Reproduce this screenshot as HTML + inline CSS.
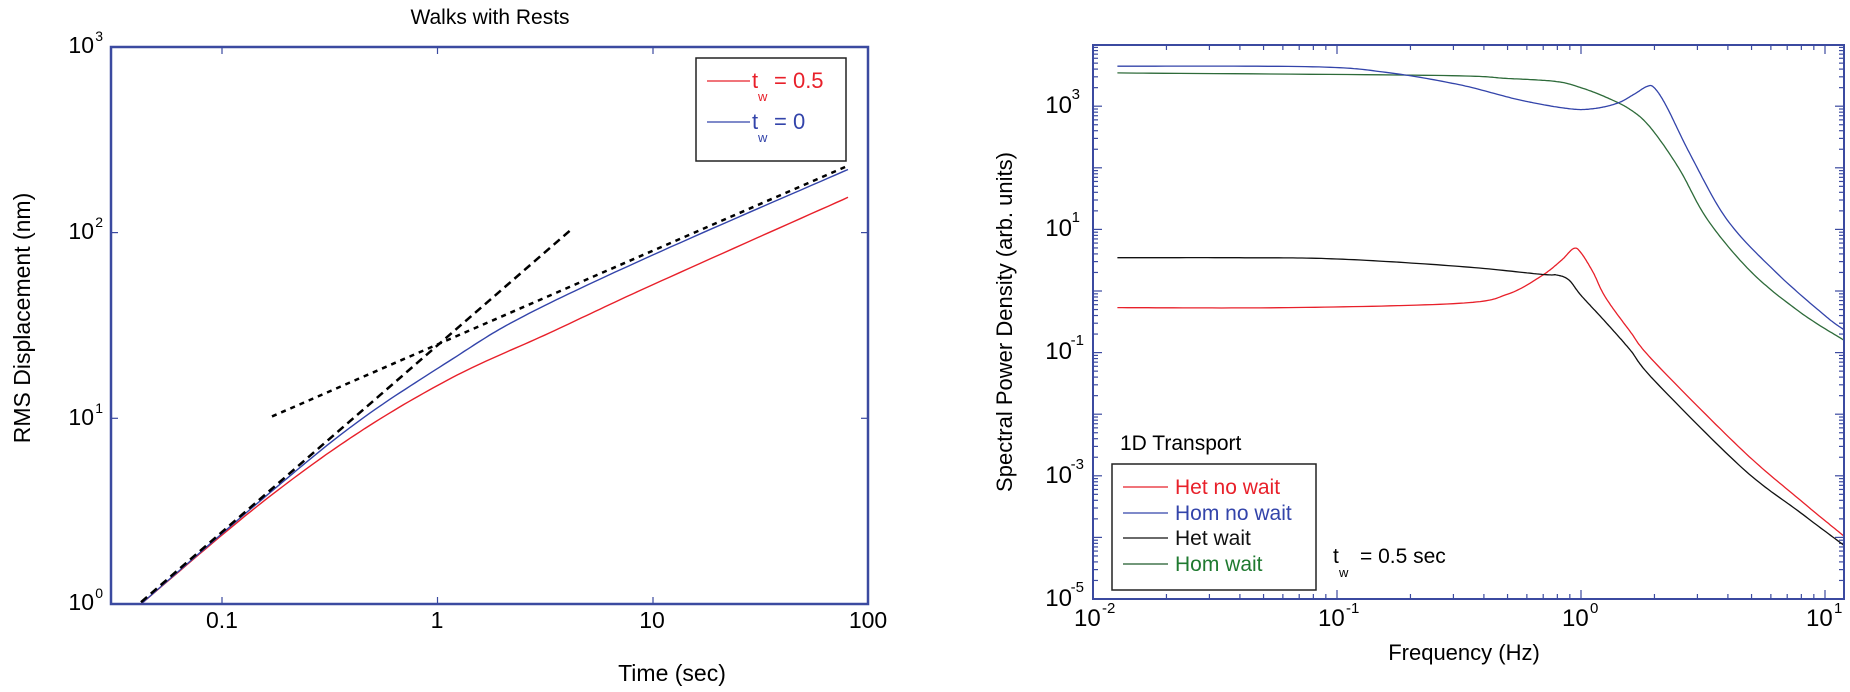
<!DOCTYPE html>
<html><head><meta charset="utf-8"><style>
html,body{margin:0;padding:0;background:#fff;}
svg{display:block;font-family:"Liberation Sans",Arial,sans-serif;}
</style></head><body>
<svg id="s" width="1850" height="692" viewBox="0 0 1850 692" xmlns="http://www.w3.org/2000/svg">
<rect width="1850" height="692" fill="#fff"/>
<!-- LEFT PLOT -->
<text x="490" y="24" font-size="21" text-anchor="middle">Walks with Rests</text>
<g id="lt" stroke="#3b4aa0" stroke-width="1.2"></g>
<rect x="111" y="47" width="757" height="557" fill="none" stroke="#3b4aa0" stroke-width="2.5"/>
<g font-size="23" text-anchor="middle">
<text x="222" y="628">0.1</text><text x="437" y="628">1</text><text x="652" y="628">10</text><text x="868" y="628">100</text>
<text x="672" y="681">Time (sec)</text>
</g>
<g font-size="23" text-anchor="end">
<text x="94" y="53">10</text><text x="103" y="41" font-size="14">3</text>
<text x="94" y="239">10</text><text x="103" y="227" font-size="14">2</text>
<text x="94" y="425">10</text><text x="103" y="413" font-size="14">1</text>
<text x="94" y="610">10</text><text x="103" y="598" font-size="14">0</text>
</g>
<text transform="translate(22,318) rotate(-90)" font-size="23" text-anchor="middle" dy="8">RMS Displacement (nm)</text>
<g id="lc" fill="none"></g>
<rect x="696" y="58" width="150" height="103" fill="#fff" stroke="#222" stroke-width="1.5"/>
<line x1="707" y1="81" x2="750" y2="81" stroke="#e8202a" stroke-width="1.2"/>
<line x1="707" y1="122" x2="750" y2="122" stroke="#3344aa" stroke-width="1.2"/>
<text x="752" y="88" font-size="22" fill="#e8202a">t</text><text x="758" y="101" font-size="13" fill="#e8202a">w</text><text x="774" y="88" font-size="22" fill="#e8202a">= 0.5</text>
<text x="752" y="129" font-size="22" fill="#3344aa">t</text><text x="758" y="142" font-size="13" fill="#3344aa">w</text><text x="774" y="129" font-size="22" fill="#3344aa">= 0</text>

<!-- RIGHT PLOT -->
<g id="rt" stroke="#3b4aa0" stroke-width="1.2"></g>
<g id="rc" fill="none"></g>
<rect x="1093" y="45" width="751" height="554" fill="none" stroke="#3b4aa0" stroke-width="2"/>
<g font-size="24" text-anchor="end">
<text x="1072" y="113">10</text><text x="1080" y="99" font-size="15">3</text>
<text x="1072" y="236">10</text><text x="1080" y="222" font-size="15">1</text>
<text x="1072" y="359">10</text><text x="1084" y="345" font-size="15">-1</text>
<text x="1072" y="483">10</text><text x="1084" y="469" font-size="15">-3</text>
<text x="1072" y="606">10</text><text x="1084" y="592" font-size="15">-5</text>
</g>
<g font-size="24">
<text x="1074" y="626">10</text><text x="1102" y="613" font-size="15">-2</text>
<text x="1318" y="626">10</text><text x="1346" y="613" font-size="15">-1</text>
<text x="1562" y="626">10</text><text x="1590" y="613" font-size="15">0</text>
<text x="1806" y="626">10</text><text x="1834" y="613" font-size="15">1</text>
</g>
<text x="1464" y="660" font-size="22" text-anchor="middle">Frequency (Hz)</text>
<text transform="translate(1004,322) rotate(-90)" font-size="22" text-anchor="middle" dy="8">Spectral Power Density (arb. units)</text>
<text x="1120" y="450" font-size="21">1D Transport</text>
<rect x="1112" y="464" width="204" height="126" fill="#fff" stroke="#222" stroke-width="1.5"/>
<line x1="1123" y1="487" x2="1168" y2="487" stroke="#e8202a" stroke-width="1.2"/>
<line x1="1123" y1="513" x2="1168" y2="513" stroke="#3344aa" stroke-width="1.2"/>
<line x1="1123" y1="538" x2="1168" y2="538" stroke="#111" stroke-width="1.2"/>
<line x1="1123" y1="564" x2="1168" y2="564" stroke="#1f5a2a" stroke-width="1.2"/>
<g font-size="21">
<text x="1175" y="494" fill="#e8202a">Het no wait</text>
<text x="1175" y="520" fill="#3344aa">Hom no wait</text>
<text x="1175" y="545" fill="#111">Het wait</text>
<text x="1175" y="571" fill="#1f7a30">Hom wait</text>
<text x="1333" y="563">t</text><text x="1339" y="577" font-size="13">w</text><text x="1360" y="563">= 0.5 sec</text>
</g>
</svg>
<script>
var NS="http://www.w3.org/2000/svg";
function el(p,n,a){var e=document.createElementNS(NS,n);for(var k in a)e.setAttribute(k,a[k]);p.appendChild(e);return e;}
function cr(pts,n){var out=[];for(var i=0;i<pts.length-1;i++){var p0=pts[Math.max(0,i-1)],p1=pts[i],p2=pts[i+1],p3=pts[Math.min(pts.length-1,i+2)];for(var j=0;j<n;j++){var t=j/n,t2=t*t,t3=t2*t;var f=function(a,b,c,d){return 0.5*((2*b)+(-a+c)*t+(2*a-5*b+4*c-d)*t2+(-a+3*b-3*c+d)*t3);};out.push([f(p0[0],p1[0],p2[0],p3[0]),f(p0[1],p1[1],p2[1],p3[1])]);}}out.push(pts[pts.length-1]);return out;}
function path(g,pts,map,col,w,dash){var q=cr(pts,20).map(map);var d="M"+q.map(function(p){return p[0].toFixed(1)+","+p[1].toFixed(1);}).join("L");var a={d:d,stroke:col,"stroke-width":w,fill:"none"};if(dash)a["stroke-dasharray"]=dash;el(g,"path",a);}
// left
var LM=function(p){return [222+215.5*(p[0]+1),604-185.7*p[1]];};
var lt=document.getElementById("lt");
[0.1,1,10].forEach(function(v){var x=222+215.5*(Math.log10(v)+1);el(lt,"line",{x1:x,y1:604,x2:x,y2:597});el(lt,"line",{x1:x,y1:47,x2:x,y2:54});});
[1,2].forEach(function(v){var y=604-185.7*v;el(lt,"line",{x1:111,y1:y,x2:118,y2:y});el(lt,"line",{x1:868,y1:y,x2:861,y2:y});});
var lc=document.getElementById("lc");
path(lc,[[-1.376,0.0],[-0.838,0.525],[-0.383,0.91],[0.07,1.22],[0.52,1.46],[1.0,1.72],[1.905,2.19]],LM,"#e8202a",1.4);
path(lc,[[-1.376,0.0],[-0.838,0.54],[-0.383,0.97],[0.07,1.32],[0.4,1.55],[1.0,1.88],[1.905,2.34]],LM,"#3344aa",1.4);
var a=LM([-1.376,0.01]),b=LM([0.624,2.02]);el(lc,"line",{x1:a[0],y1:a[1],x2:b[0],y2:b[1],stroke:"#000","stroke-width":2.5,"stroke-dasharray":"8,5"});
a=LM([-0.768,1.01]);b=LM([1.905,2.36]);el(lc,"line",{x1:a[0],y1:a[1],x2:b[0],y2:b[1],stroke:"#000","stroke-width":2.5,"stroke-dasharray":"5,5"});
// right
var RM=function(p){return [1093+244*(p[0]+2),599-61.6*(p[1]+5)];};
var rt=document.getElementById("rt");
for(var dd=-2;dd<=1;dd++){for(var m=1;m<=9;m++){var lv=dd+Math.log10(m);if(lv>1.078)break;var x=1093+244*(lv+2);var L=m==1?9:5;el(rt,"line",{x1:x,y1:599,x2:x,y2:599-L});el(rt,"line",{x1:x,y1:45,x2:x,y2:45+L});}}
for(var dd=-5;dd<=3;dd++){for(var m=1;m<=9;m++){var lv=dd+Math.log10(m);var y=599-61.6*(lv+5);if(y<45)break;var L=m==1?9:5;el(rt,"line",{x1:1093,y1:y,x2:1093+L,y2:y});el(rt,"line",{x1:1844,y1:y,x2:1844-L,y2:y});}}
var rc=document.getElementById("rc");
path(rc,[[-1.9,-0.27],[-1.2,-0.27],[-0.5,-0.2],[-0.3,-0.05],[-0.16,0.25],[-0.08,0.5],[-0.03,0.69],[0.0,0.62],[0.05,0.3],[0.1,-0.1],[0.2,-0.65],[0.3,-1.15],[0.66,-2.58],[0.9,-3.4],[1.078,-3.98]],RM,"#e8202a",1.3);
path(rc,[[-1.9,0.54],[-1.4,0.54],[-1,0.52],[-0.5,0.4],[-0.16,0.27],[-0.1,0.26],[-0.05,0.18],[0,-0.07],[0.1,-0.5],[0.2,-0.95],[0.3,-1.45],[0.66,-2.87],[0.9,-3.6],[1.078,-4.13]],RM,"#111",1.3);
path(rc,[[-1.9,3.54],[-0.6,3.5],[-0.3,3.45],[-0.1,3.4],[0.0,3.3],[0.1,3.15],[0.2,2.95],[0.283,2.66],[0.4,2.0],[0.52,1.15],[0.7,0.3],[0.9,-0.35],[1.078,-0.8]],RM,"#2e6b3a",1.3);
path(rc,[[-1.9,3.65],[-1.1,3.64],[-0.8,3.55],[-0.5,3.35],[-0.25,3.1],[-0.05,2.96],[0.05,2.96],[0.15,3.05],[0.22,3.2],[0.27,3.32],[0.3,3.3],[0.35,3.0],[0.45,2.2],[0.6,1.15],[0.8,0.3],[1.0,-0.4],[1.078,-0.63]],RM,"#3344aa",1.3);
</script>
</body></html>
